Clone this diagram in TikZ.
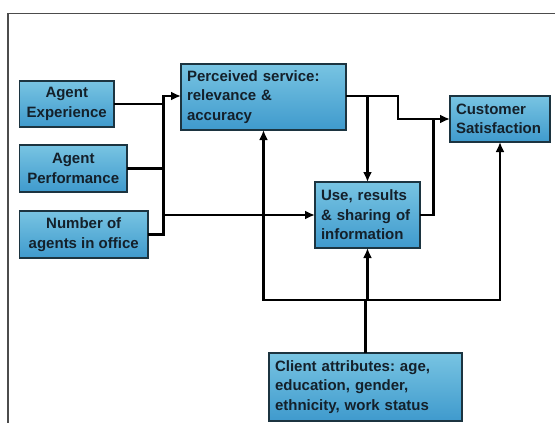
\documentclass[tikz,border=0pt]{standalone}
\usepackage{fontspec}
\setmainfont{Liberation Sans}
\usetikzlibrary{arrows.meta}
\frenchspacing
\definecolor{boxtop}{HTML}{78C4E2}
\definecolor{boxmid}{HTML}{C8E9F5}
\definecolor{boxbot}{HTML}{3F9ACD}
\definecolor{boxline}{HTML}{1C3440}
\definecolor{txt}{HTML}{14202A}
\tikzset{
  box/.style={draw=boxline, line width=1.5pt, top color=boxtop, middle color=boxmid, bottom color=boxbot,
    font=\fontsize{15}{19.5}\selectfont\bfseries, text=txt, inner sep=0pt, outer sep=0pt},
  cbox/.style={box, align=center},
  lbox/.style={box, align=left},
  conn/.style={line width=2.6pt, black},
  arr/.style={conn, -{Latex[length=10pt,width=9pt]}},
  frame/.style={draw=black!70, line width=1.5pt}
}
\begin{document}
\begin{tikzpicture}[x=1pt,y=-1pt]
\useasboundingbox (0,0) rectangle (555,423);
\draw[frame] (8,423) -- (8,13.5) -- (556,13.5);

\node[cbox, minimum width=94.5pt, minimum height=46pt] (ae) at (66.75,104) {Agent\\Experience};
\node[cbox, minimum width=107.5pt, minimum height=47pt] (ap) at (73.25,168.5) {Agent\\Performance};
\node[cbox, minimum width=128.5pt, minimum height=47pt] (na) at (83.75,234.5) {Number of\\agents in office};

\node[lbox, minimum width=165pt, minimum height=66pt, text width=153pt] (ps) at (263.5,97) {Perceived service:\\relevance \&\\accuracy};
\node[lbox, minimum width=100pt, minimum height=46pt, text width=88pt] (cs) at (500,119) {Customer\\Satisfaction};
\node[lbox, minimum width=105pt, minimum height=66pt, text width=93pt] (use) at (367.5,215) {Use, results\\\& sharing of\\information};
\node[lbox, minimum width=193pt, minimum height=68pt, text width=181pt] (ca) at (365.5,387) {Client attributes: age,\\education, gender,\\ethnicity, work status};

\coordinate (busT) at (163.5,96);
\coordinate (busB) at (163.5,234.5);
\coordinate (pj) at (398,96);
\coordinate (cj) at (398,119);
\coordinate (uj) at (433.6,215);
\coordinate (cb) at (365.5,300);
\coordinate (cbl) at (263.5,300);
\coordinate (cbr) at (500,300);

\draw[conn] (ae.east) -- (ae.east -| busT);
\draw[conn] (ap.east) -- (ap.east -| busT);
\draw[arr] (na.east) -- (busB) -- (busT) -- (ps.west |- busT);
\draw[arr] (busT |- use.west) -- (use.west);

\draw[arr] (ps.east |- pj) -- (pj) -- (cj) -- (cs.west);
\draw[conn] (use.east) -- (uj) -- (uj |- cs.west);
\draw[arr] (use.north |- pj) -- (use.north);

\draw[conn] (ca.north) -- (cb);
\draw[arr] (cb) -- (cbl) -- (ps.south);
\draw[arr] (cb) -- (cbr) -- (cs.south);
\draw[arr] (use.south |- cb) -- (use.south);
\end{tikzpicture}
\end{document}
